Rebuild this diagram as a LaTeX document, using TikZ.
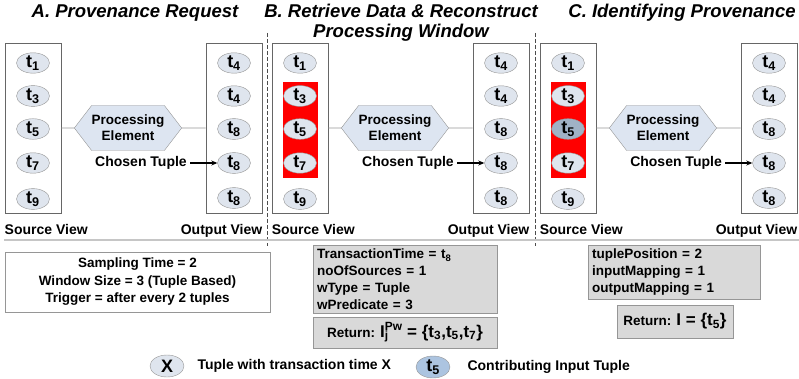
\documentclass[tikz,border=0pt]{standalone}
\usepackage{fontspec}
\setmainfont{Liberation Sans}
\usepackage{tikz}
\usetikzlibrary{shapes,shapes.symbols,positioning,arrows.meta}
\definecolor{tupfill}{RGB}{223,229,238}
\definecolor{tupdark}{RGB}{160,178,198}
\definecolor{legfill}{RGB}{172,196,224}
\definecolor{pefill}{RGB}{221,229,241}
\definecolor{infofill}{RGB}{217,217,217}
\definecolor{edge}{RGB}{150,150,150}
\tikzset{
  tup/.style={ellipse, draw=edge, fill=tupfill, minimum width=33pt, minimum height=20pt, inner sep=0pt, font=\fontsize{18}{18}\selectfont\bfseries},
  view/.style={draw=gray!80!black, line width=0.9pt, minimum width=56pt, minimum height=170pt},
  pe/.style={signal, signal to=west and east, signal pointer angle=105, draw=edge, fill=pefill, minimum width=100pt, minimum height=45pt, inner sep=0pt, align=center, font=\fontsize{13.5}{16}\selectfont\bfseries},
  lbl/.style={font=\fontsize{14}{16}\selectfont\bfseries},
  ttl/.style={font=\fontsize{18.5}{20}\selectfont\bfseries\itshape, align=center},
  note/.style={draw=edge, inner sep=4pt, font=\fontsize{13.5}{16.7}\selectfont\bfseries},
  link/.style={draw=edge, line width=0.7pt},
  pick/.style={-{Stealth[length=6pt,width=5pt]}, line width=1.1pt},
  divider/.style={dash pattern=on 4pt off 2pt, gray!60!black, line width=0.7pt}
}
\begin{document}
\begin{tikzpicture}[x=1pt,y=-1pt]
\useasboundingbox (0,0) rectangle (799,379);
\fill[red] (282.5,82) rectangle (317.5,178);
\fill[red] (550.5,82) rectangle (585.5,178);
\foreach \p/\ox/\cf in {A/0/tupfill,B/267/tupfill,C/535/tupdark}{
  \node[view] (src\p) at (33+\ox,128) {};
  \node[view] (out\p) at (234+\ox,128) {};
  \foreach \i/\n/\y/\c in {1/1/63/tupfill,2/3/96/tupfill,3/5/129/\cf,4/7/163/tupfill,5/9/199/tupfill}
    \node[tup, fill=\c] (s\p\i) at (33+\ox,\y) {t\textsubscript{\n}};
  \foreach \i/\n/\y in {1/4/63,2/4/96,3/8/129,4/8/163,5/8/198}
    \node[tup] (o\p\i) at (234+\ox,\y) {t\textsubscript{\n}};
  \node[pe] (pe\p) at (128+\ox,128) {Processing\\Element};
  \draw[link] (src\p) -- (pe\p);
  \draw[link] (pe\p) -- (out\p);
  \node[lbl] (ch\p) at (141+\ox,163) {Chosen Tuple};
  \draw[pick] (ch\p) -- (o\p4);
  \node[lbl, below right=11pt and 0pt of src\p.south west, inner sep=0pt] (sv\p) {Source View};
  \node[lbl, below left=11pt and 0pt of out\p.south east, inner sep=0pt] (ov\p) {Output View};
}
\node[ttl] (ttlA) at (135,13) {A. Provenance Request};
\node[ttl] (ttlB) at (401,23) {B. Retrieve Data \& Reconstruct\\Processing Window};
\node[ttl] (ttlC) at (682,13) {C. Identifying Provenance};
\draw[divider] (267,33) -- (267,246);
\draw[divider] (535,33) -- (535,246);
\draw[gray!45, line width=1.3pt] (4,240) -- (799,240);
\node[note, fill=white, minimum width=265pt, minimum height=60pt, align=center, font=\fontsize{13.5}{17.5}\selectfont\bfseries] (param) at (137.5,282) {Sampling Time = 2\\Window Size = 3 (Tuple Based)\\Trigger = after every 2 tuples};
\node[note, fill=infofill, anchor=north west, text width=176pt, minimum height=67pt, align=left] (infoB) at (313,245) {TransactionTime = t\textsubscript{8}\\noOfSources = 1\\wType = Tuple\\wPredicate = 3};
\node[note, fill=infofill, minimum width=184pt, minimum height=31pt] (retB) at (405,332.5) {Return: {\fontsize{17}{20}\selectfont I\rlap{\textsubscript{j}}\textsuperscript{Pw} = \{t\textsubscript{3},t\textsubscript{5},t\textsubscript{7}\}}};
\node[note, fill=infofill, anchor=north west, text width=164pt, minimum height=52pt, align=left] (infoC) at (588,245) {tuplePosition = 2\\inputMapping = 1\\outputMapping = 1};
\node[note, fill=infofill, minimum width=116pt, minimum height=33pt] (retC) at (675,321.5) {Return: {\fontsize{17}{20}\selectfont I = \{t\textsubscript{5}\}}};
\node[tup, minimum width=34pt, minimum height=22pt] (legX) at (167,366) {X};
\node[lbl, anchor=west] (legXt) at (194,366) {Tuple with transaction time X};
\node[tup, fill=legfill, minimum width=34pt, minimum height=22pt] (legT) at (433,367) {t\textsubscript{5}};
\node[lbl, anchor=west] (legTt) at (464,367) {Contributing Input Tuple};
\end{tikzpicture}
\end{document}
